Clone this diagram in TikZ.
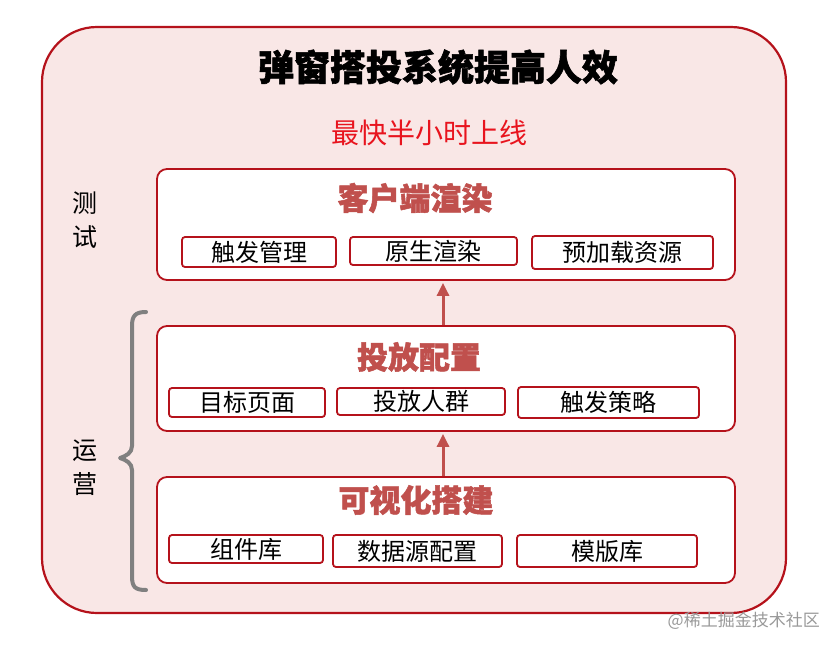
\documentclass[tikz,border=0pt]{standalone}
\usepackage{fontspec}
\setmainfont{Noto Sans CJK SC}[BoldFeatures={FakeBold=1.6}]
\usetikzlibrary{arrows.meta}
\definecolor{outerfill}{HTML}{F9E7E6}
\definecolor{darkred}{HTML}{B5121B}
\definecolor{titlered}{HTML}{C0504D}
\definecolor{brightred}{HTML}{E8141E}
\definecolor{bracegray}{HTML}{808080}
\tikzset{
  outerbox/.style={draw=darkred, fill=outerfill, line width=2.2pt, rounded corners=55pt},
  layerbox/.style={draw=darkred, fill=white, line width=1.8pt, rounded corners=10pt, minimum width=578pt, inner sep=0pt},
  itembox/.style={draw=darkred, fill=white, line width=1.8pt, rounded corners=3pt, inner sep=0pt, font=\fontsize{24}{24}\selectfont, text=black},
  layertitle/.style={font=\fontsize{31}{31}\selectfont\bfseries, text=titlered, inner sep=0pt},
  sidelabel/.style={font=\fontsize{25}{34}\selectfont, align=center, text=black, inner sep=0pt},
  uparrow/.style={draw=titlered, line width=3pt, -{Triangle[length=13pt,width=12pt]}, shorten >=2pt},
  bracepath/.style={draw=bracegray, line width=4pt, line cap=round, line join=round},
}
\begin{document}
\begin{tikzpicture}[x=1pt,y=-1pt]
\useasboundingbox (0,0) rectangle (836,646);
\path[outerbox] (42,27) rectangle (786,613);

\node[font=\fontsize{36}{36}\selectfont\bfseries, inner sep=0pt] (title) at (438,67) {弹窗搭投系统提高人效};
\node[font=\fontsize{28}{28}\selectfont, text=brightred, inner sep=0pt] (sub) at (429,133) {最快半小时上线};

% layer boxes
\node[layerbox, minimum height=111pt] (b1) at (446,224.5) {};
\node[layerbox, minimum height=105pt] (b2) at (446,378.5) {};
\node[layerbox, minimum height=106pt] (b3) at (446,530) {};

\node[layertitle] (t1) at (415,198) {客户端渲染};
\node[layertitle] (t2) at (419,357) {投放配置};
\node[layertitle] (t3) at (416,500) {可视化搭建};

% items row 1
\node[itembox, minimum width=154pt, minimum height=30pt] (s11) at (259,252) {触发管理};
\node[itembox, minimum width=167pt, minimum height=28pt] (s12) at (433.5,251) {原生渲染};
\node[itembox, minimum width=181pt, minimum height=33pt] (s13) at (622.5,252.5) {预加载资源};
% items row 2
\node[itembox, minimum width=156pt, minimum height=29pt] (s21) at (247,402.5) {目标页面};
\node[itembox, minimum width=168pt, minimum height=27pt] (s22) at (421,401.5) {投放人群};
\node[itembox, minimum width=181pt, minimum height=31pt] (s23) at (608.5,402.5) {触发策略};
% items row 3
\node[itembox, minimum width=154pt, minimum height=28pt] (s31) at (246,549) {组件库};
\node[itembox, minimum width=169pt, minimum height=32pt] (s32) at (417.5,551) {数据源配置};
\node[itembox, minimum width=180pt, minimum height=32pt] (s33) at (607,551) {模版库};

% arrows
\draw[uparrow] ([xshift=-3pt]b2.north) -- ([xshift=-3pt]b1.south);
\draw[uparrow] ([xshift=-3pt]b3.north) -- ([xshift=-3pt]b2.south);

% side labels
\node[sidelabel] (test) at (85,220) {测\\试};
\node[sidelabel] (ops) at (85,468) {运\\营};

% brace
\coordinate (bt) at (146,312);
\coordinate (bb) at (146,590);
\draw[bracepath] (bt) .. controls (135,312) and (132,316) .. (132,326) -- (132,446)
  .. controls (132,453) and (126,456) .. (120,458)
  .. controls (126,460) and (132,463) .. (132,470) -- (132,576)
  .. controls (132,587) and (135,590) .. (bb);

% watermark
\node[anchor=east, inner sep=0pt, text=black!40, font=\fontsize{17}{17}\selectfont] (wm) at (820,621) {@稀土掘金技术社区};
\end{tikzpicture}
\end{document}
